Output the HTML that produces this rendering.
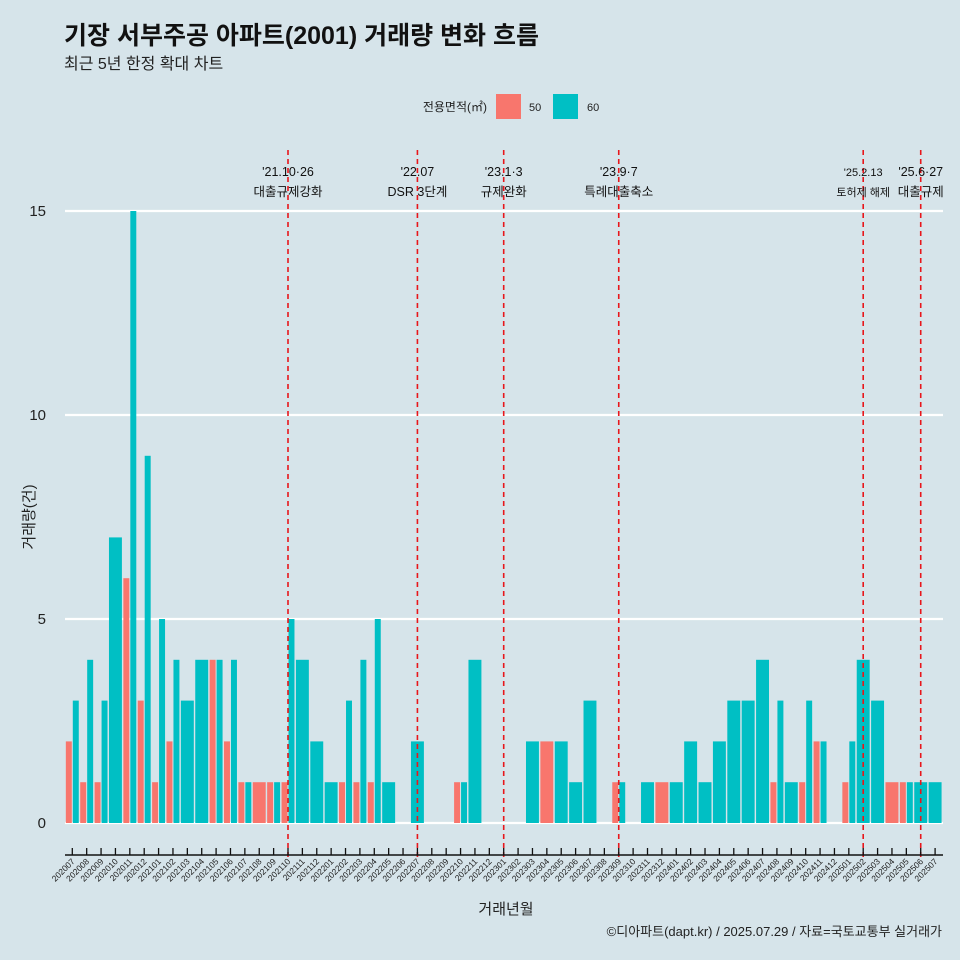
<!DOCTYPE html>
<html><head><meta charset="utf-8"><style>
body{margin:0;background:#d6e4ea;}
svg{display:block;font-family:"Liberation Sans","Noto Sans CJK KR",sans-serif;}
</style></head><body>
<svg id="chart" width="960" height="960" viewBox="0 0 960 960">
<rect width="960" height="960" fill="#d6e4ea"/>
<text x="64" y="44" font-size="25" font-weight="bold" fill="#111">기장 서부주공 아파트(2001) 거래량 변화 흐름</text>
<text x="64" y="69" font-size="16" fill="#222">최근 5년 한정 확대 차트</text>
<g>
<text x="487" y="111" font-size="12" text-anchor="end" fill="#222">전용면적(㎡)</text>
<rect x="496" y="94" width="25" height="25" fill="#f8766d"/>
<text x="529" y="111" font-size="11" fill="#222">50</text>
<rect x="553" y="94" width="25" height="25" fill="#00bfc4"/>
<text x="587" y="111" font-size="11" fill="#222">60</text>
</g>
<g id="grid"></g><g id="bars"></g><g id="events"></g><g id="axes"></g>
<text x="506" y="914" font-size="15" text-anchor="middle" fill="#222">거래년월</text>
<text transform="translate(34,517) rotate(-90)" font-size="15" text-anchor="middle" fill="#222">거래량(건)</text>
<text x="942" y="936" font-size="13" text-anchor="end" fill="#222">©디아파트(dapt.kr) / 2025.07.29 / 자료=국토교통부 실거래가</text>
</svg>
<script>
const months=["202007","202008","202009","202010","202011","202012","202101","202102","202103","202104","202105","202106","202107","202108","202109","202110","202111","202112","202201","202202","202203","202204","202205","202206","202207","202208","202209","202210","202211","202212","202301","202302","202303","202304","202305","202306","202307","202308","202309","202310","202311","202312","202401","202402","202403","202404","202405","202406","202407","202408","202409","202410","202411","202412","202501","202502","202503","202504","202505","202506","202507"];
const s50=[2,1,1,0,6,3,1,2,0,0,4,2,1,1,1,1,0,0,0,1,1,1,0,0,0,0,0,1,0,0,0,0,0,2,0,0,0,0,1,0,0,1,0,0,0,0,0,0,0,1,0,1,2,0,1,0,0,1,1,0,0];
const s60=[3,4,3,7,15,9,5,4,3,4,4,4,1,0,1,5,4,2,1,3,4,5,1,0,2,0,0,1,4,0,0,0,2,0,2,1,3,0,1,0,1,0,1,2,1,2,3,3,4,3,1,3,2,0,2,4,3,0,1,1,1];
const yTicks=[0,5,10,15];
const evMonths=["202110","202207","202301","202309","202502","202506"];
const evDates=["'21.10·26","'22.07","'23.1·3","'23.9·7","'25.2.13","'25.6·27"];
const evLabels=["대출규제강화","DSR 3단계","규제완화","특례대출축소","토허제 해제","대출규제"];
const NS="http://www.w3.org/2000/svg";
const x0=72.3,step=14.38,yBase=823,yUnit=40.8,L=65,R=943;
const X=i=>x0+i*step, Y=v=>yBase-v*yUnit;
function mk(tag,attrs,parent){const e=document.createElementNS(NS,tag);for(const k in attrs)e.setAttribute(k,attrs[k]);document.getElementById(parent).appendChild(e);return e;}
yTicks.forEach(t=>{
 const l=mk("line",{x1:L,x2:R,y1:Y(t),y2:Y(t),stroke:"#fff","stroke-width":2.2},"grid");
 
 
 const tx=mk("text",{x:46,y:Y(t)+5,"font-size":15,"text-anchor":"end",fill:"#222"},"grid");
 tx.textContent=t;
 
 
});
const bw=step*0.9;
months.forEach((m,i)=>{
 const a=s50[i],b=s60[i],cx=X(i);
 const both=a>0&&b>0;
 if(a>0){const r=mk("rect",{x:cx-bw/2,y:Y(a),width:both?bw/2-0.5:bw,height:a*yUnit,fill:"#f8766d"},"bars");
  
  }
 if(b>0){const r=mk("rect",{x:both?cx+0.5:cx-bw/2,y:Y(b),width:both?bw/2-0.5:bw,height:b*yUnit,fill:"#00bfc4"},"bars");
  
  }
});
const ax=mk("line",{x1:L,x2:R,y1:855,y2:855,stroke:"#111","stroke-width":1.5},"axes");


months.forEach((m,i)=>{
 const t=mk("line",{x1:X(i),x2:X(i),y1:848,y2:855,stroke:"#111","stroke-width":1.3},"axes");
 
 
 const tx=mk("text",{x:X(i)+3,y:862,"font-size":8.5,"text-anchor":"end",fill:"#222",transform:`rotate(-45 ${X(i)+3} 862)`},"axes");
 tx.textContent=m;
 
 
});
evMonths.forEach((m,k)=>{
 const i=months.indexOf(m),cx=X(i);
 const l=mk("line",{x1:cx,x2:cx,y1:150,y2:858,stroke:"#e8161b","stroke-width":1.6,"stroke-dasharray":"5,4"},"events");
 
 
 const fs=m==="202502"?11:12.5;
 const d=mk("text",{x:cx,y:176,"font-size":fs,"text-anchor":"middle",fill:"#111"},"events");
 d.textContent=evDates[k];
 
 
 const t=mk("text",{x:cx,y:196,"font-size":fs,"text-anchor":"middle",fill:"#111"},"events");
 t.textContent=evLabels[k];
 
 
});
</script>
</body></html>
